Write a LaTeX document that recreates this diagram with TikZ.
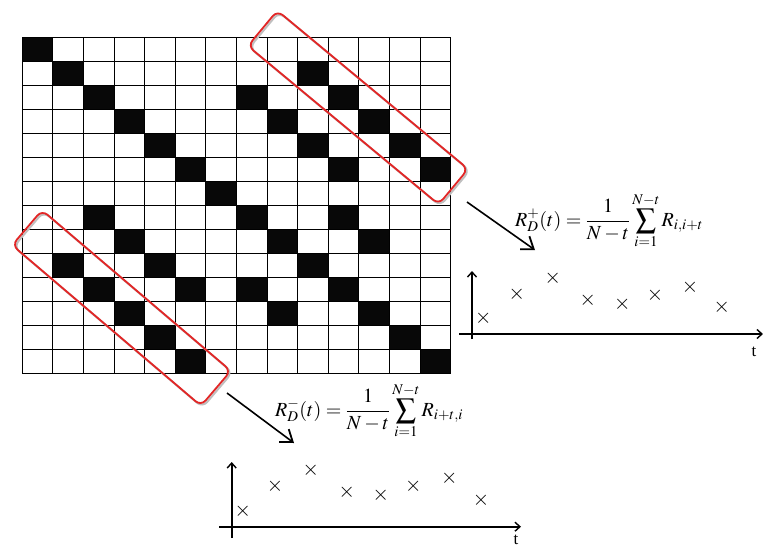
\documentclass[tikz,border=0pt]{standalone}
\usepackage{mathptmx}
\usepackage{fontspec}
\setmainfont{Liberation Serif}
\usetikzlibrary{arrows.meta}
\definecolor{boxred}{RGB}{226,38,38}
\begin{document}
\begin{tikzpicture}[x=1pt,y=-1pt,
  gridline/.style={line width=0.9pt,black},
  cell/.style={fill=black!97},
  redbox/.style={draw=boxred,line width=1.8pt,rounded corners=7pt,minimum width=248pt,minimum height=46pt,inner sep=0pt},
  redshadow/.style={draw=black!25,line width=2pt,rounded corners=7pt,minimum width=248pt,minimum height=46pt,inner sep=0pt},
  bigarrow/.style={line width=1.6pt,-{Straight Barb[length=11pt,width=16pt,line width=1.8pt]}},
  axis/.style={line width=1.6pt,-{Straight Barb[length=5pt,width=9pt,line width=1.4pt]}},
  formula/.style={font=\fontsize{20}{24}\selectfont,inner sep=0pt},
  cross/.style={font=\fontsize{21}{22}\selectfont,inner sep=0pt},
  tlabel/.style={font=\fontsize{17}{19}\selectfont,inner sep=0pt}
]
\useasboundingbox[fill=white] (0,0) rectangle (763,547);
% black cells
\foreach \r/\c in {0/0,1/1,1/9,2/2,2/7,2/10,3/3,3/8,3/11,4/4,4/9,4/12,5/5,5/10,5/13,6/6,7/2,7/7,7/10,8/3,8/8,8/11,9/1,9/4,9/9,10/2,10/5,10/7,10/10,11/3,11/8,11/11,12/4,12/12,13/5,13/13}
  \fill[cell] (22.3+\c*30.6,37.3+\r*24) rectangle ++(30.6,24);
% grid lines
\foreach \i in {0,...,14} {
  \draw[gridline] (22.3+\i*30.6,37.3) -- (22.3+\i*30.6,373.3);
  \draw[gridline] (22.3,37.3+\i*24) -- (450.7,37.3+\i*24);
}
% red boxes
\node[redshadow,rotate=-39.7] at (359.5,109) {};
\node[redbox,rotate=-39.7] (boxup) at (358,107.5) {};
\node[redshadow,rotate=-40.4] at (123,309.5) {};
\node[redbox,rotate=-40.4] (boxlow) at (121.5,308) {};
% upper formula and plot
\coordinate (a1s) at (467,202);
\coordinate (a1e) at (535,250);
\draw[bigarrow] (a1s) -- (a1e);
\node[formula,anchor=west] (fup) at (515,221) {$\displaystyle R_D^{+}(t)=\frac{1}{N-t}\sum_{i=1}^{N-t}R_{i,i+t}$};
\coordinate (yb1) at (472,339);
\coordinate (yt1) at (472,271);
\coordinate (xl1) at (459,334);
\coordinate (xr1) at (763,334);
\draw[axis] (yb1) -- (yt1);
\draw[axis] (xl1) -- (xr1);
\node[tlabel] (t1) at (754,352) {t};
\foreach \n/\x/\y in {1/483.3/318.3,2/516.7/294,3/552.7/278.3,4/587.7/300,5/622.3/304,6/655/295,7/690/287.3,8/721.7/307.7}
  \node[cross] (cu\n) at (\x,\y) {$\times$};
% lower formula and plot
\coordinate (a2s) at (227,393);
\coordinate (a2e) at (294,443);
\draw[bigarrow] (a2s) -- (a2e);
\node[formula,anchor=west] (flow) at (275,411) {$\displaystyle R_D^{-}(t)=\frac{1}{N-t}\sum_{i=1}^{N-t}R_{i+t,i}$};
\coordinate (yb2) at (231.7,538);
\coordinate (yt2) at (231.7,462);
\coordinate (xl2) at (219,526.7);
\coordinate (xr2) at (521,526.7);
\draw[axis] (yb2) -- (yt2);
\draw[axis] (xl2) -- (xr2);
\node[tlabel] (t2) at (516,540) {t};
\foreach \n/\x/\y in {1/242.7/511,2/275/486,3/310.7/470.7,4/346.7/492.3,5/380.7/495.7,6/413.3/486.7,7/449.3/478.7,8/481/500}
  \node[cross] (cl\n) at (\x,\y) {$\times$};
\end{tikzpicture}
\end{document}
